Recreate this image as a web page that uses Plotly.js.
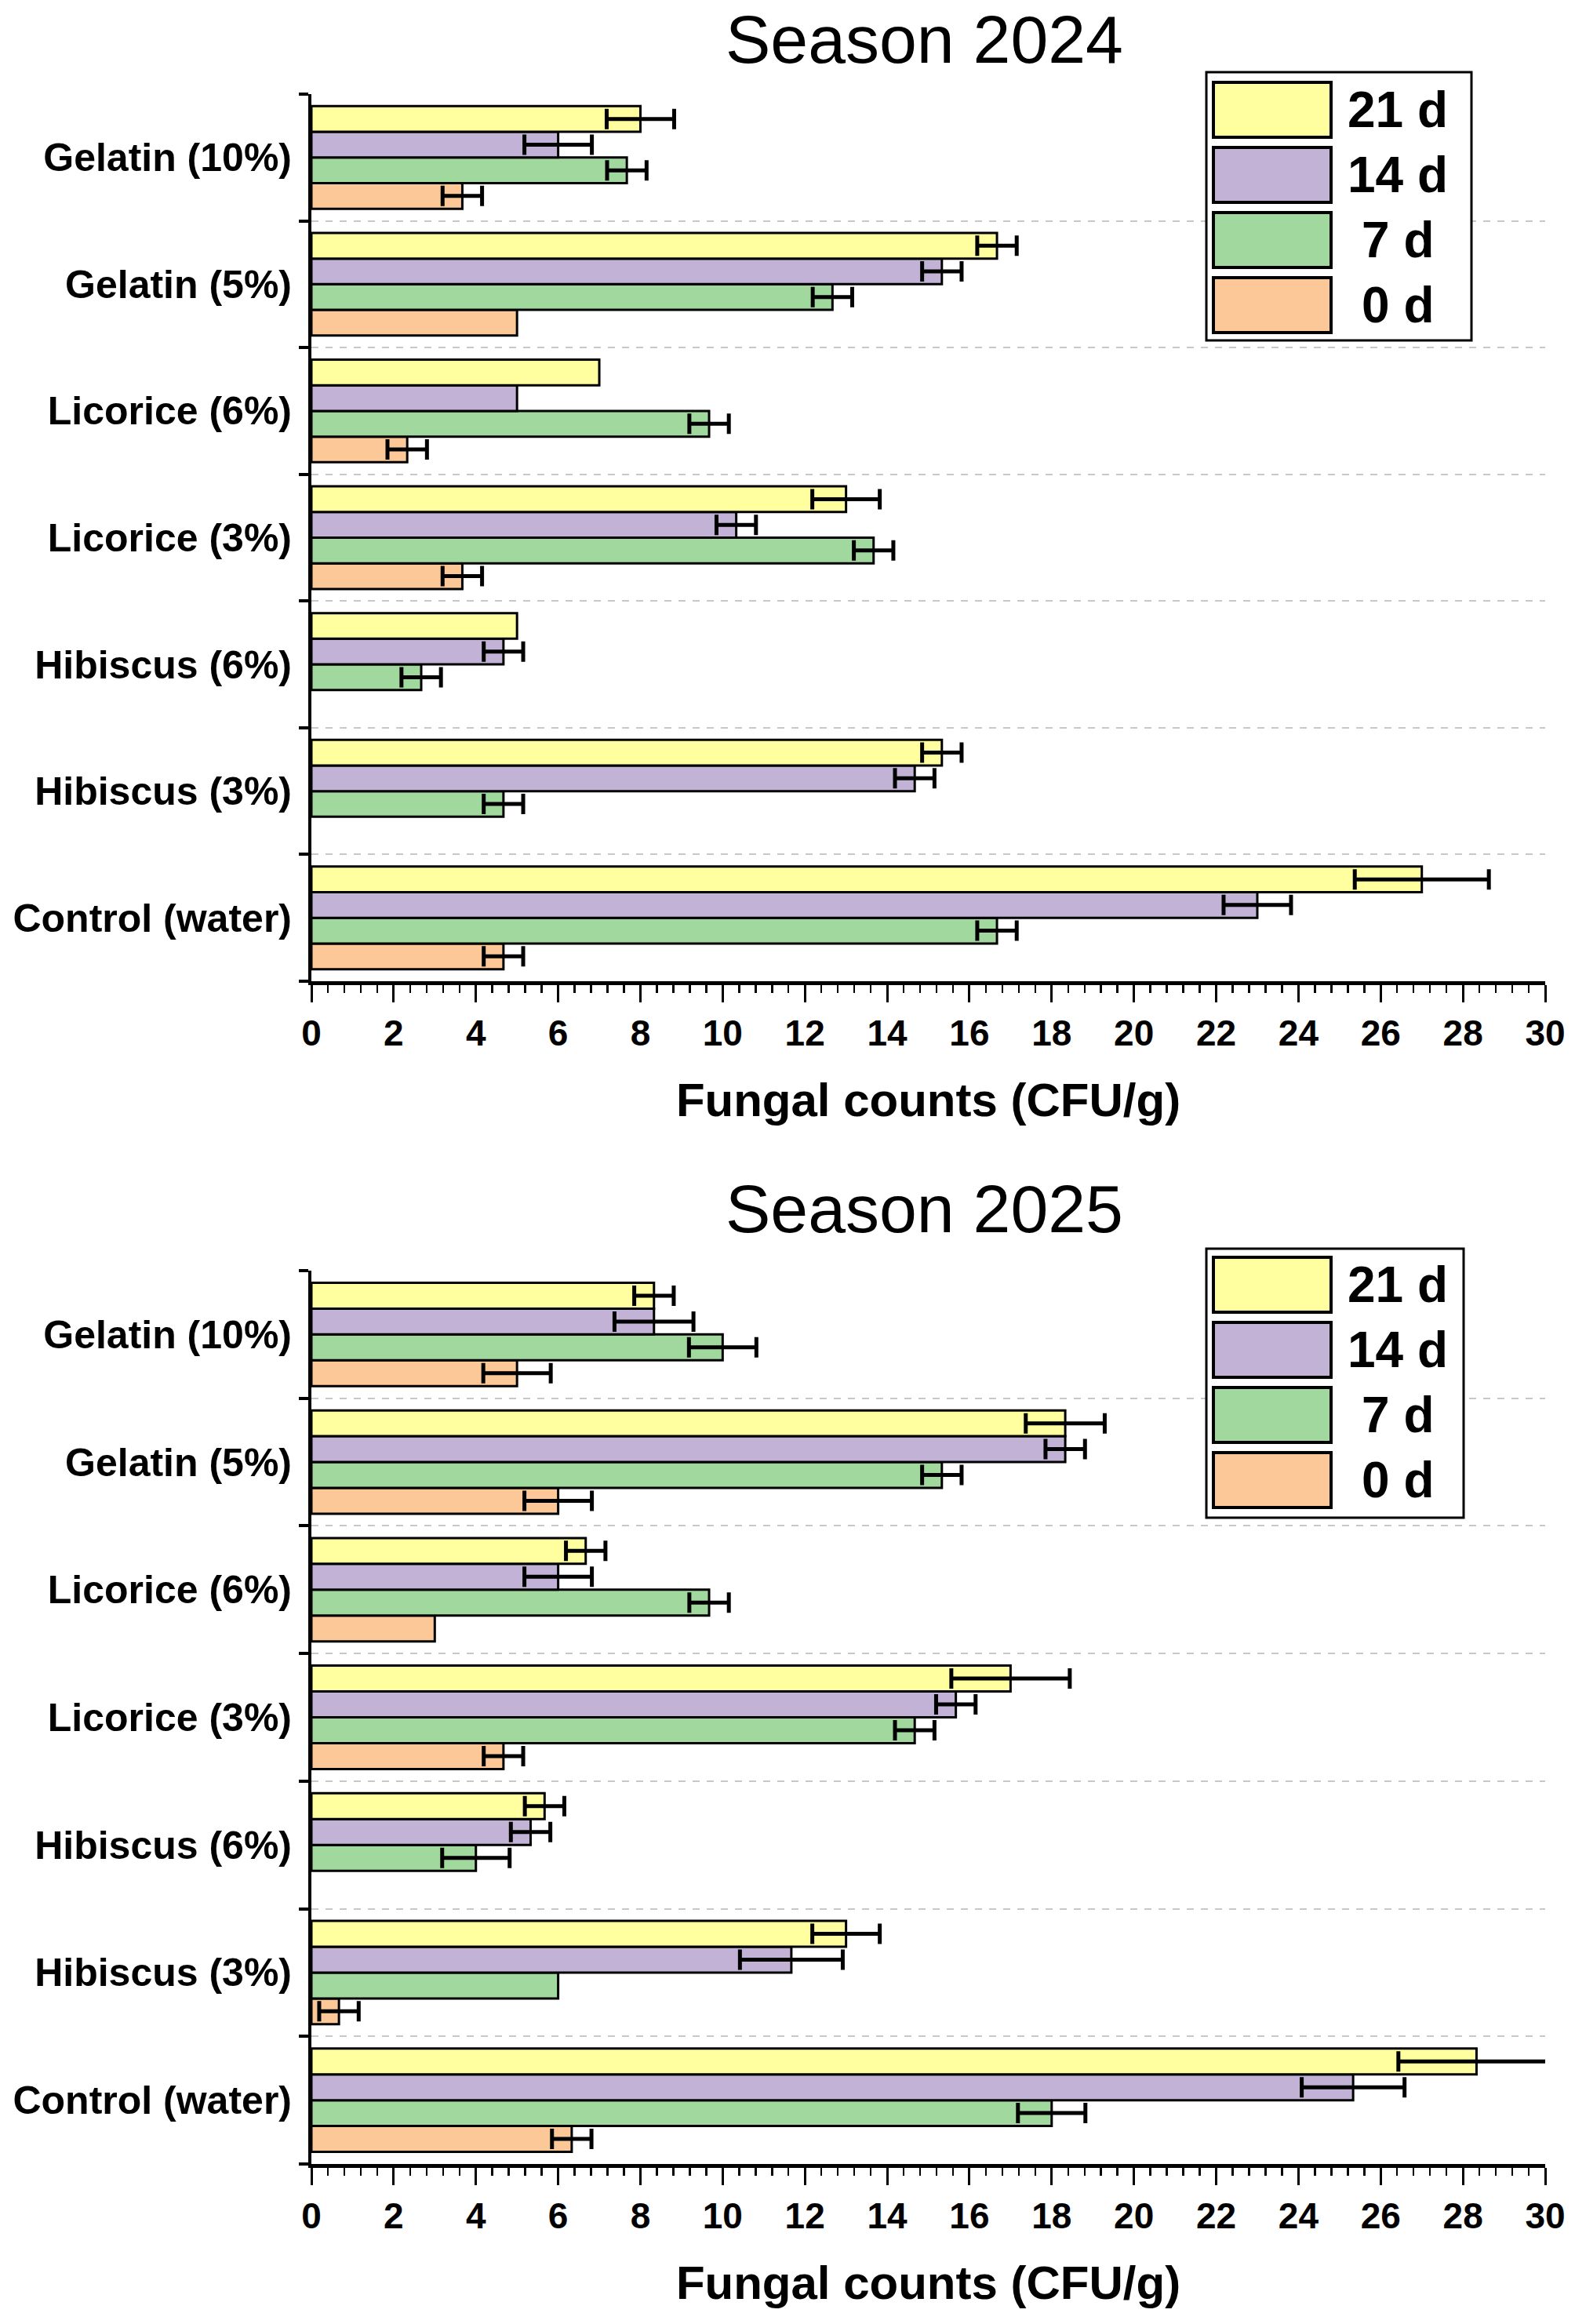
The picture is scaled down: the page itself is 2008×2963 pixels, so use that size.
<!DOCTYPE html>
<html>
<head>
<meta charset="utf-8">
<script src="https://cdn.plot.ly/plotly-3.0.1.min.js"></script>
<style>html,body{margin:0;padding:0;background:#ffffff;}</style>
</head>
<body>
<div id="chart" style="width:2008px;height:2963px;"></div>
<script>
// ---------- data ----------
const categories = ["Control (water)", "Hibiscus (3%)", "Hibiscus (6%)", "Licorice (3%)", "Licorice (6%)", "Gelatin (5%)", "Gelatin (10%)"];
const seriesNames = ["0 d", "7 d", "14 d", "21 d"];
const seasonTitles = ["Season 2024", "Season 2025"];
const xAxisTitle = "Fungal counts (CFU/g)";

// Season 2024 – means (order follows categories)
const s2024_d0  = [4.67, null, null, 3.67, 2.33, 5.00, 3.67];
const s2024_d7  = [16.67, 4.67, 2.67, 13.67, 9.67, 12.67, 7.67];
const s2024_d14 = [23.00, 14.67, 4.67, 10.33, 5.00, 15.33, 6.00];
const s2024_d21 = [27.00, 15.33, 5.00, 13.00, 7.00, 16.67, 8.00];
// Season 2024 – error (±)
const e2024_d0  = [0.48, null, null, 0.48, 0.48, null, 0.48];
const e2024_d7  = [0.48, 0.48, 0.48, 0.48, 0.48, 0.48, 0.48];
const e2024_d14 = [0.82, 0.48, 0.48, 0.48, null, 0.48, 0.82];
const e2024_d21 = [1.63, 0.48, null, 0.82, null, 0.48, 0.82];

// Season 2025 – means
const s2025_d0  = [6.33, 0.67, null, 4.67, 3.00, 6.00, 5.00];
const s2025_d7  = [18.00, 6.00, 4.00, 14.67, 9.67, 15.33, 10.00];
const s2025_d14 = [25.33, 11.67, 5.33, 15.67, 6.00, 18.33, 8.33];
const s2025_d21 = [28.33, 13.00, 5.67, 17.00, 6.67, 18.33, 8.33];
// Season 2025 – error (±)
const e2025_d0  = [0.48, 0.48, null, 0.48, null, 0.82, 0.82];
const e2025_d7  = [0.82, null, 0.82, 0.48, 0.48, 0.48, 0.82];
const e2025_d14 = [1.25, 1.25, 0.48, 0.48, 0.82, 0.48, 0.96];
const e2025_d21 = [1.90, 0.82, 0.48, 1.44, 0.48, 0.96, 0.48];

// ---------- style ----------
const seriesColors = ["#FCC897", "#A0D89E", "#C1B2D6", "#FFFFA0"];
const FONT = "Liberation Sans, Arial, Helvetica, sans-serif";
const W = 2008, H = 2963;
const px = v => v / W;
const py = v => 1 - v / H;

const seasons = [
  {vals: [s2024_d0, s2024_d7, s2024_d14, s2024_d21], errs: [e2024_d0, e2024_d7, e2024_d14, e2024_d21]},
  {vals: [s2025_d0, s2025_d7, s2025_d14, s2025_d21], errs: [e2025_d0, e2025_d7, e2025_d14, e2025_d21]}
];

const traces = [];
seasons.forEach((s, si) => {
  s.vals.forEach((vals, i) => {
    traces.push({
      type: "bar",
      orientation: "h",
      name: seriesNames[i],
      y: categories,
      x: vals,
      xaxis: si === 0 ? "x" : "x2",
      yaxis: si === 0 ? "y" : "y2",
      showlegend: false,
      cliponaxis: false,
      marker: {color: seriesColors[i], line: {color: "#000000", width: 3}},
      error_x: {
        type: "data",
        array: s.errs[i].map(v => v == null ? NaN : v),
        visible: true,
        color: "#000000",
        thickness: 5,
        width: 13
      },
      hoverinfo: "x+y+name"
    });
  });
});

const xDomain = [px(397), px(1970)];
const plotBoxes = [[120, 1251], [1620, 2759]];

function xAxisDef(anchor) {
  return {
    anchor: anchor,
    domain: xDomain,
    range: [0, 30],
    tick0: 0,
    dtick: 2,
    ticks: "outside",
    ticklen: 22,
    tickwidth: 3,
    tickcolor: "#000",
    showline: true,
    linewidth: 5,
    linecolor: "#000",
    showgrid: false,
    zeroline: false,
    minor: {dtick: 0.4, ticks: "outside", ticklen: 10, tickwidth: 2.5, tickcolor: "#000", showgrid: false},
    tickfont: {family: FONT, size: 46, color: "#000", weight: 700},
    title: {text: xAxisTitle, font: {family: FONT, size: 60, color: "#000", weight: 700}, standoff: 40}
  };
}
function yAxisDef(anchor, box) {
  return {
    anchor: anchor,
    domain: [py(box[1]), py(box[0])],
    type: "category",
    categoryorder: "array",
    categoryarray: categories,
    range: [-0.5, categories.length - 0.5],
    tickson: "boundaries",
    ticks: "outside",
    ticklen: 12,
    tickwidth: 4,
    tickcolor: "#000",
    ticklabelstandoff: 11,
    showline: true,
    linewidth: 4,
    linecolor: "#000",
    showgrid: true,
    gridcolor: "#c8c8c8",
    griddash: "dash",
    gridwidth: 2,
    zeroline: false,
    tickfont: {family: FONT, size: 50, color: "#000", weight: 700}
  };
}

// custom large-swatch legends (entries listed 21 d -> 0 d)
const legendBoxes = [
  {box: [1538, 92, 1876, 434], top: 105},
  {box: [1538, 1592, 1866, 1935], top: 1603}
];
const shapes = [];
const annotations = [];
legendBoxes.forEach(lb => {
  shapes.push({type: "rect", xref: "paper", yref: "paper",
    x0: px(lb.box[0]), x1: px(lb.box[2]), y0: py(lb.box[3]), y1: py(lb.box[1]),
    line: {color: "#000", width: 3}, fillcolor: "#ffffff", layer: "above"});
  for (let k = 0; k < seriesNames.length; k++) {
    const idx = seriesNames.length - 1 - k;
    const t = lb.top + 83 * k;
    shapes.push({type: "rect", xref: "paper", yref: "paper",
      x0: px(1547), x1: px(1697), y0: py(t + 70), y1: py(t),
      line: {color: "#000", width: 4}, fillcolor: seriesColors[idx], layer: "above"});
    annotations.push({xref: "paper", yref: "paper", x: px(1782), y: py(t + 35),
      xanchor: "center", yanchor: "middle", showarrow: false, text: seriesNames[idx],
      font: {family: FONT, size: 64, color: "#000", weight: 700}});
  }
});
// season titles
[[0, 0], [1500, 9]].forEach((p, i) => {
  annotations.push({xref: "paper", yref: "paper", x: px(1178), y: py(p[0]), yshift: p[1],
    xanchor: "center", yanchor: "top", showarrow: false, text: seasonTitles[i],
    font: {family: FONT, size: 86, color: "#000"}});
});

const layout = {
  width: W,
  height: H,
  margin: {l: 0, r: 0, t: 0, b: 0, pad: 0},
  paper_bgcolor: "#ffffff",
  plot_bgcolor: "#ffffff",
  barmode: "group",
  bargap: 0.19,
  bargroupgap: 0,
  showlegend: false,
  font: {family: FONT, color: "#000"},
  xaxis: xAxisDef("y"),
  yaxis: yAxisDef("x", plotBoxes[0]),
  xaxis2: xAxisDef("y2"),
  yaxis2: yAxisDef("x2", plotBoxes[1]),
  shapes: shapes,
  annotations: annotations
};

Plotly.newPlot("chart", traces, layout, {displayModeBar: false, responsive: false, staticPlot: true}).then(gd => {
  // let error bars that run past the axis end stay visible (as in the original figure)
  gd.querySelectorAll(".barlayer, .barlayer .trace, .barlayer .errorbars, g.plot").forEach(el => el.removeAttribute("clip-path"));
});
</script>
</body>
</html>
